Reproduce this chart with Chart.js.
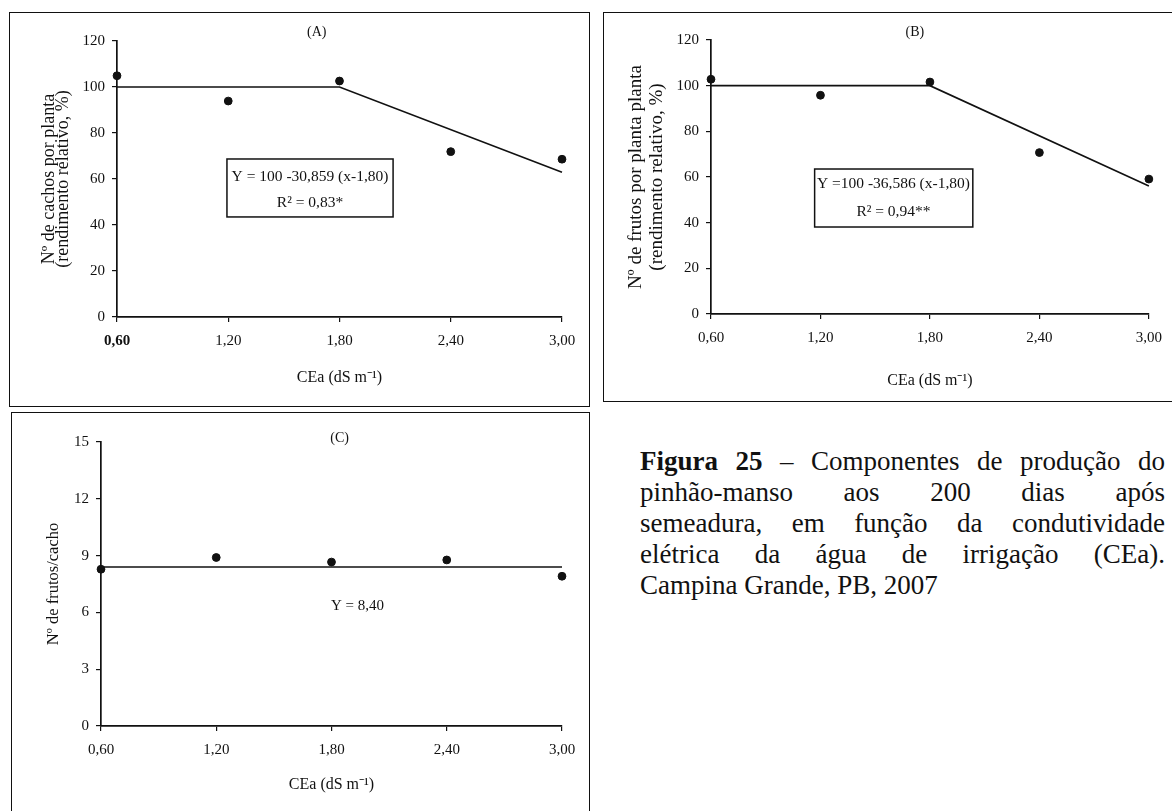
<!DOCTYPE html>
<html lang="pt">
<head>
<meta charset="utf-8">
<title>Componentes de produção do pinhão-manso</title>
<script src="https://cdn.jsdelivr.net/npm/chart.js@4.4.1/dist/chart.umd.min.js"></script>
<style>
  html, body { margin: 0; padding: 0; background: #fff; }
  body { width: 1172px; height: 811px; position: relative; overflow: hidden; }
  .frame { position: absolute; border: 1.5px solid #111; box-sizing: border-box; }
  .panel { position: absolute; }
  .caption {
    position: absolute; left: 640px; top: 446px; width: 525px;
    font-family: "Liberation Serif", "Times New Roman", serif;
    font-size: 27px; line-height: 31px; color: #111;
  }
  .caption .jl { text-align: justify; text-align-last: justify; }
  .caption b { font-weight: bold; }
</style>
</head>
<body>
<div class="frame" style="left:9px;top:12px;width:581px;height:395px;"></div>
<div class="frame" style="left:603px;top:12px;width:580px;height:390px;"></div>
<div class="frame" style="left:11px;top:412px;width:579px;height:420px;"></div>

<div class="panel" style="left:9px;top:12px;width:581px;height:395px;"><canvas id="chartA"></canvas></div>
<div class="panel" style="left:603px;top:12px;width:569px;height:390px;"><canvas id="chartB"></canvas></div>
<div class="panel" style="left:11px;top:412px;width:579px;height:399px;"><canvas id="chartC"></canvas></div>

<div class="caption">
  <div class="jl"><b>Figura 25</b> – Componentes de produção do</div>
  <div class="jl">pinhão-manso aos 200 dias após</div>
  <div class="jl">semeadura, em função da condutividade</div>
  <div class="jl">elétrica da água de irrigação (CEa).</div>
  <div>Campina Grande, PB, 2007</div>
</div>

<script>
// Salinity levels of the irrigation water (CEa, dS m-1)
const ceaLevels = [0.60, 1.20, 1.80, 2.40, 3.00];
const ceaTickLabels = ['0,60', '1,20', '1,80', '2,40', '3,00'];

// (A) bunches per plant, relative yield (%)
const cachosRel = [104.9, 93.9, 102.6, 71.9, 68.6];
// (B) fruits per plant, relative yield (%)
const frutosRel = [102.8, 95.8, 101.6, 70.7, 59.1];
// (C) fruits per bunch
const frutosCacho = [8.28, 8.90, 8.66, 8.77, 7.91];

// Fitted models: plateau of 100 up to 1,80 dS m-1, then linear decline
const fitX = [0.60, 1.80, 3.00];
const fitA = [100, 100, 62.97];   // Y = 100 - 30,859 (x - 1,80)
const fitB = [100, 100, 56.10];   // Y = 100 - 36,586 (x - 1,80)
const fitCX = [0.60, 3.00];
const fitC = [8.40, 8.40];        // Y = 8,40

const yTicksRel = [0, 20, 40, 60, 80, 100, 120];
const yTicksC = [0, 3, 6, 9, 12, 15];

const SERIF = '"Liberation Serif", "Times New Roman", serif';
Chart.defaults.font.family = SERIF;
Chart.defaults.color = '#111';

// Equation boxes, panel letters and free labels placed in data units
const panelNotes = {
  id: 'panelNotes',
  afterDatasetsDraw(chart, args, opts) {
    const { ctx, scales: { x, y } } = chart;
    ctx.save();
    (opts.boxes || []).forEach(b => {
      const l = x.getPixelForValue(b.x0), r = x.getPixelForValue(b.x1);
      const t = y.getPixelForValue(b.y1), btm = y.getPixelForValue(b.y0);
      ctx.fillStyle = '#fff';
      ctx.fillRect(l, t, r - l, btm - t);
      ctx.strokeStyle = '#111';
      ctx.lineWidth = 1.5;
      ctx.strokeRect(l, t, r - l, btm - t);
    });
    (opts.labels || []).forEach(lb => {
      ctx.font = (lb.weight || 'normal') + ' ' + lb.size + 'px ' + SERIF;
      ctx.fillStyle = '#111';
      ctx.textAlign = 'center';
      ctx.textBaseline = 'middle';
      ctx.fillText(lb.text, x.getPixelForValue(lb.x), y.getPixelForValue(lb.y));
    });
    ctx.restore();
  }
};

function toPoints(xs, ys) { return xs.map((v, i) => ({ x: v, y: ys[i] })); }

function makePanel(id, cfg) {
  const tickFont = { family: SERIF, size: 15 };
  new Chart(document.getElementById(id), {
    type: 'scatter',
    data: {
      datasets: [
        {
          data: toPoints(ceaLevels, cfg.values),
          backgroundColor: '#111', borderColor: '#111',
          pointRadius: 3.9, pointHoverRadius: 3.9, showLine: false, clip: false
        },
        {
          type: 'line',
          data: toPoints(cfg.fitX, cfg.fitY),
          borderColor: '#111', borderWidth: 1.6, pointRadius: 0,
          fill: false, tension: 0, clip: false
        }
      ]
    },
    options: {
      responsive: true, maintainAspectRatio: false, animation: false,
      events: [],
      layout: { padding: cfg.padding },
      plugins: {
        legend: { display: false }, tooltip: { enabled: false }, title: { display: false },
        panelNotes: { boxes: cfg.boxes, labels: cfg.labels }
      },
      scales: {
        x: {
          type: 'linear', min: 0.6, max: 3.0,
          afterBuildTicks: s => { s.ticks = ceaLevels.map(v => ({ value: v })); },
          afterFit: s => { s.height = cfg.xHeight; },
          border: { display: true, color: '#111', width: 1.7 },
          grid: { display: true, drawOnChartArea: false, drawTicks: true, tickLength: 5, color: '#111', lineWidth: 1.2 },
          ticks: {
            padding: 10, color: '#111', maxRotation: 0, autoSkip: false,
            font: ctx => ({ family: SERIF, size: 15, weight: (cfg.boldFirstX && ctx.index === 0) ? 'bold' : 'normal' }),
            callback: (v, i) => ceaTickLabels[i]
          },
          title: {
            display: true, text: 'CEa (dS m⁻¹)', color: '#111',
            font: { family: SERIF, size: 16 }, padding: { top: 0, bottom: cfg.xTitlePad }
          }
        },
        y: {
          type: 'linear', min: 0, max: cfg.yMax,
          afterBuildTicks: s => { s.ticks = cfg.yTicks.map(v => ({ value: v })); },
          afterFit: s => { s.width = cfg.yWidth; },
          border: { display: true, color: '#111', width: 1.7 },
          grid: { display: true, drawOnChartArea: false, drawTicks: true, tickLength: 5, color: '#111', lineWidth: 1.2 },
          ticks: { padding: 7, color: '#111', font: tickFont, callback: v => String(v) },
          title: {
            display: true, text: cfg.yTitle, color: '#111',
            font: { family: SERIF, size: cfg.yTitleSize, lineHeight: cfg.yTitleLH },
            padding: { top: cfg.yTitlePad, bottom: 0 }
          }
        }
      }
    },
    plugins: [panelNotes]
  });
}

makePanel('chartA', {
  values: cachosRel, fitX: fitX, fitY: fitA,
  yMax: 120, yTicks: yTicksRel,
  yTitle: ['Nº de cachos por planta', '(rendimento relativo, %)'],
  yTitleSize: 18, yTitleLH: 0.8, yTitlePad: 33,
  padding: { left: 0, top: 29, right: 28, bottom: 0 },
  yWidth: 108, xHeight: 90, xTitlePad: 20, boldFirstX: true,
  boxes: [{ x0: 1.193, x1: 2.089, y0: 43.5, y1: 68.7 }],
  labels: [
    { text: '(A)', x: 1.677, y: 123.9, size: 14 },
    { text: 'Y = 100 -30,859 (x-1,80)', x: 1.641, y: 61.0, size: 15.5 },
    { text: 'R² = 0,83*', x: 1.641, y: 49.6, size: 15.5 }
  ]
});

makePanel('chartB', {
  values: frutosRel, fitX: fitX, fitY: fitB,
  yMax: 120, yTicks: yTicksRel,
  yTitle: ['Nº de frutos por planta planta', '(rendimento relativo, %)'],
  yTitleSize: 19, yTitleLH: 1.1, yTitlePad: 23,
  padding: { left: 0, top: 28, right: 16, bottom: 0 },
  yWidth: 108, xHeight: 88, xTitlePad: 12, boldFirstX: false,
  boxes: [{ x0: 1.168, x1: 2.035, y0: 38.1, y1: 63.5 }],
  labels: [
    { text: '(B)', x: 1.717, y: 123.5, size: 14 },
    { text: 'Y =100 -36,586 (x-1,80)', x: 1.60, y: 56.8, size: 15.5 },
    { text: 'R² = 0,94**', x: 1.60, y: 44.8, size: 15.5 }
  ]
});

makePanel('chartC', {
  values: frutosCacho, fitX: fitCX, fitY: fitC,
  yMax: 15, yTicks: yTicksC,
  yTitle: 'Nº de frutos/cacho',
  yTitleSize: 16.5, yTitleLH: 1.2, yTitlePad: 33,
  padding: { left: 0, top: 30, right: 28, bottom: 0 },
  yWidth: 90, xHeight: 85, xTitlePad: 17, boldFirstX: false,
  boxes: [],
  labels: [
    { text: '(C)', x: 1.842, y: 15.2, size: 14 },
    { text: 'Y = 8,40', x: 1.935, y: 6.34, size: 15 }
  ]
});
</script>
</body>
</html>
